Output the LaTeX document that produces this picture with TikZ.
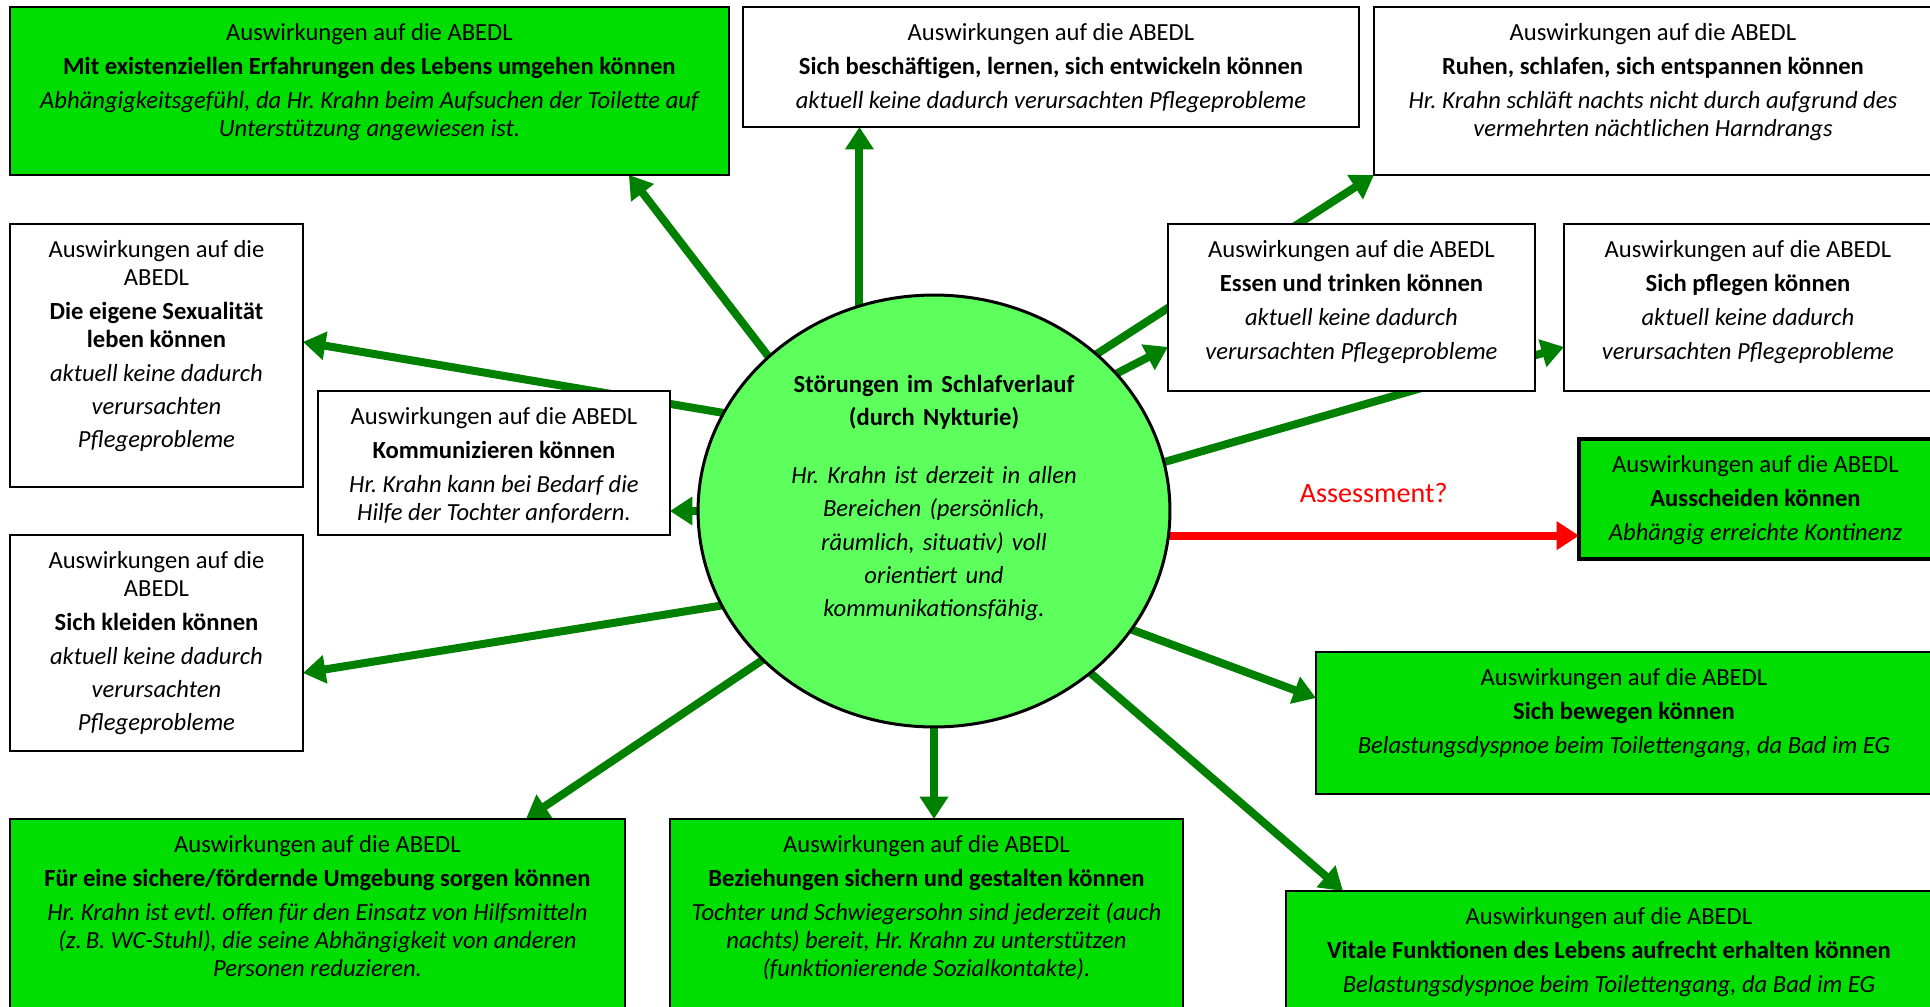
\documentclass[tikz,border=0pt]{standalone}
\usepackage{fontspec}
\setmainfont{Carlito}
\frenchspacing
\usetikzlibrary{arrows.meta,shapes.geometric,backgrounds}

\definecolor{boxgreen}{RGB}{0,221,0}
\definecolor{circlegreen}{RGB}{92,255,92}
\definecolor{arrowgreen}{RGB}{0,128,0}

% box text: height, width, title, remark
\newcommand\abedl[4]{\parbox[t][#1][t]{#2}{\centering Auswirkungen auf die ABEDL\\[3.5pt]\textbf{#3}\\[3.5pt]\textit{#4}}}

\begin{document}
\begin{tikzpicture}[x=0.02cm, y=-0.02cm,
  box/.style = {draw, fill=white, line width=0.035cm, anchor=north west, inner xsep=0.15cm, inner ysep=0.32cm, outer sep=0pt, font=\fontsize{14}{15.9}\selectfont},
  greenbox/.style = {box, fill=boxgreen},
  arr/.style = {draw=arrowgreen, line width=0.16cm, -{Triangle[length=0.45cm, width=0.55cm]}}]
\useasboundingbox (0,0) rectangle (1930,1007);
\clip (0,0) rectangle (1930,1007);

%centre
\node[ellipse, draw, line width=0.06cm, fill=circlegreen, minimum width=9.44cm, minimum height=8.64cm, inner sep=0pt, outer sep=0pt] (sleep) at (934,511) {};
\node[text width=8cm, align=center, font=\fontsize{14}{19}\selectfont] (sleeptxt) at (934,498) {\textbf{Störungen im Schlafverlauf\\(durch Nykturie)}\\[14pt]\textit{Hr. Krahn ist derzeit in allen\\Bereichen (persönlich,\\räumlich, situativ) voll\\orientiert und\\kommunikationsfähig.}};

%top row
\node[greenbox] (exist) at (10,7) {\abedl{2.72cm}{14.08cm}{Mit existenziellen Erfahrungen des Lebens umgehen können}{Abhängigkeitsgefühl, da Hr. Krahn beim Aufsuchen der Toilette auf\\Unterstützung angewiesen ist.}};
\node[box] (busy) at (743,7) {\abedl{1.76cm}{12.02cm}{Sich beschäftigen, lernen, sich entwickeln können}{aktuell keine dadurch verursachten Pflegeprobleme}};
\node[box] (rest) at (1374,7) {\abedl{2.72cm}{10.86cm}{Ruhen, schlafen, sich entspannen können}{Hr. Krahn schläft nachts nicht durch aufgrund des\\vermehrten nächtlichen Harndrangs}};

%left side
\node[box] (sex) at (10,224) {\abedl{4.62cm}{5.56cm}{Die eigene Sexualität\\leben können}{aktuell keine dadurch\\[3pt]verursachten\\[3pt]Pflegeprobleme}};
\node[box] (comm) at (318,391) {\abedl{2.24cm}{6.74cm}{Kommunizieren können}{Hr. Krahn kann bei Bedarf die\\Hilfe der Tochter anfordern.}};
\node[box] (dress) at (10,535) {\abedl{3.68cm}{5.56cm}{Sich kleiden können}{aktuell keine dadurch\\[3pt]verursachten\\[3pt]Pflegeprobleme}};

%right side
\node[box] (eat) at (1168,224) {\abedl{2.70cm}{7.04cm}{Essen und trinken können}{aktuell keine dadurch\\[3.5pt]verursachten Pflegeprobleme}};
\node[box] (care) at (1564,224) {\abedl{2.70cm}{7.06cm}{Sich pflegen können}{aktuell keine dadurch\\[3.5pt]verursachten Pflegeprobleme}};
\node[greenbox, line width=0.07cm] (excr) at (1579,439) {\abedl{1.76cm}{6.76cm}{Ausscheiden können}{Abhängig erreichte Kontinenz}};
\node[greenbox] (move) at (1316,652) {\abedl{2.20cm}{12.02cm}{Sich bewegen können}{Belastungsdyspnoe beim Toilettengang, da Bad im EG}};

%bottom row
\node[greenbox] (env) at (10,819) {\abedl{3.96cm}{12.0cm}{Für eine sichere/fördernde Umgebung sorgen können}{Hr. Krahn ist evtl. offen für den Einsatz von Hilfsmitteln\\(z.\,B. WC-Stuhl), die seine Abhängigkeit von anderen\\Personen reduzieren.}};
\node[greenbox] (rel) at (670,819) {\abedl{3.96cm}{9.96cm}{Beziehungen sichern und gestalten können}{Tochter und Schwiegersohn sind jederzeit (auch\\nachts) bereit, Hr. Krahn zu unterstützen\\(funktionierende Sozialkontakte).}};
\node[greenbox] (vital) at (1286,891) {\abedl{2.56cm}{12.62cm}{Vitale Funktionen des Lebens aufrecht erhalten können}{Belastungsdyspnoe beim Toilettengang, da Bad im EG}};

%arrows
\begin{scope}[on background layer]
\draw[arr] (sleep.137) -- ([xshift=12.38cm]exist.south west);
\draw[arr] (sleep.110) -- (sleep.110 |- busy.south);
\draw[arr] (sleep.44) -- (rest.south west);
\draw[arr] (sleep.155) -- ([yshift=-2.36cm]sex.north east);
\draw[arr] (sleep.west) -- (sleep.west -| comm.east);
\draw[arr] (sleep.204) -- ([yshift=-2.76cm]dress.north east);
\draw[arr] (sleep.37) -- ([yshift=-2.46cm]eat.north west);
\draw[arr] (sleep.12) -- ([yshift=-2.46cm]care.north west);
\draw[arr, draw=red] (sleep.-6) -- (sleep.-6 -| excr.west) node[midway, above=0.47cm, text=red, font=\fontsize{16}{18}\selectfont] (assess) {Assessment?};
\draw[arr] (sleep.-31) -- ([yshift=-0.92cm]move.north west);
\draw[arr] (sleep.221) -- ([xshift=10.32cm]env.north west);
\draw[arr] (sleep.south) -- (sleep.south |- rel.north);
\draw[arr] (sleep.-46) -- ([xshift=1.14cm]vital.north west);
\end{scope}
\end{tikzpicture}
\end{document}
